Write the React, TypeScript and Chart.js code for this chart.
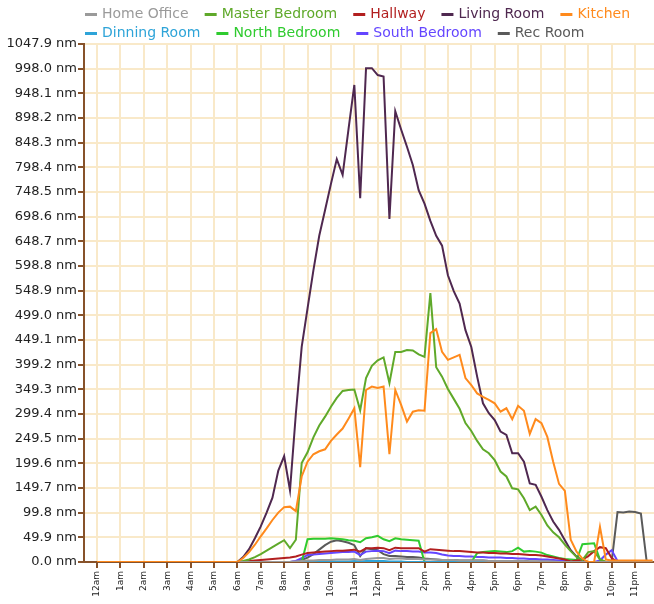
import React, { useEffect, useRef } from 'react';
import { Chart, registerables } from 'chart.js';

Chart.register(...registerables);

// Quarter-hour sample times, in hours from midnight
const SLOTS: number[] = Array.from({ length: 96 }, (_, i) => i / 4);

const HOUR_TICKS = [0, 1, 2, 3, 4, 5, 6, 7, 8, 9, 10, 11, 12, 13, 14, 15, 16, 17, 18, 19, 20, 21, 22, 23];
const HOUR_LABELS = ['12am', '1am', '2am', '3am', '4am', '5am', '6am', '7am', '8am', '9am', '10am', '11am',
  '12pm', '1pm', '2pm', '3pm', '4pm', '5pm', '6pm', '7pm', '8pm', '9pm', '10pm', '11pm'];
const Y_TICKS = [0.0, 49.9, 99.8, 149.7, 199.6, 249.5, 299.4, 349.3, 399.2, 449.1, 499.0, 548.9,
  598.8, 648.7, 698.6, 748.5, 798.4, 848.3, 898.2, 948.1, 998.0, 1047.9];

const SERIES_NAMES = ['Home Office', 'Master Bedroom', 'Hallway', 'Living Room', 'Kitchen',
  'Dinning Room', 'North Bedroom', 'South Bedroom', 'Rec Room'];
const SERIES_COLORS = ['#9a9a9a', '#5fa92a', '#b21f1f', '#4f2850', '#ff8a1c',
  '#2ea4d8', '#2fcb2f', '#6446ff', '#5a5a5a'];

const HOME_OFFICE = [
  0, 0, 0, 0, 0, 0, 0, 0, 0, 0, 0, 0, 0, 0, 0, 0, 0, 0, 0, 0, 0, 0, 0, 0,
  0, 0, 0, 0, 0, 0, 0, 0, 0, 0, 1, 2, 3, 3, 4, 4, 4, 5, 5, 5, 6, 4, 6, 7,
  8, 8, 6, 7, 7, 6, 6, 6, 5, 5, 5, 4, 4, 4, 3, 3, 3, 3, 3, 2, 2, 2, 2, 2,
  2, 2, 1, 1, 1, 1, 1, 0, 0, 0, 0, 0, 0, 0, 0, 0, 0, 0, 0, 0, 0, 0, 0, 0,
];
const MASTER_BEDROOM = [
  0, 0, 0, 0, 0, 0, 0, 0, 0, 0, 0, 0, 0, 0, 0, 0, 0, 0, 0, 0, 0, 0, 0, 0,
  0, 2, 5, 10, 16, 23, 30, 37, 44, 28, 45, 200, 222, 252, 276, 294, 314, 332, 346, 348, 349, 307, 372, 397,
  408, 414, 362, 425, 425, 429, 428, 420, 415, 544, 394, 375, 350, 330, 310, 281, 265, 245, 228, 220, 206, 183, 173, 149,
  147, 129, 105, 112, 95, 74, 60, 50, 35, 22, 10, 4, 20, 22, 5, 0, 0, 0, 0, 0, 0, 0, 0, 0,
];
const HALLWAY = [
  0, 0, 0, 0, 0, 0, 0, 0, 0, 0, 0, 0, 0, 0, 0, 0, 0, 0, 0, 0, 0, 0, 0, 0,
  0, 1, 2, 3, 4, 5, 6, 7, 8, 9, 11, 15, 18, 19, 20, 21, 22, 23, 23, 24, 25, 21, 28, 28,
  29, 28, 24, 29, 28, 28, 28, 28, 21, 26, 25, 24, 23, 22, 22, 21, 20, 19, 19, 18, 18, 17, 17, 16,
  16, 15, 14, 14, 13, 11, 9, 7, 5, 1, 3, 5, 12, 22, 30, 28, 8, 0, 0, 0, 0, 0, 0, 0,
];
const LIVING_ROOM = [
  0, 0, 0, 0, 0, 0, 0, 0, 0, 0, 0, 0, 0, 0, 0, 0, 0, 0, 0, 0, 0, 0, 0, 0,
  0, 10, 26, 48, 72, 100, 130, 185, 214, 145, 300, 435, 513, 590, 660, 712, 765, 815, 783, 875, 965, 736, 999, 999,
  985, 982, 694, 912, 875, 840, 803, 752, 725, 690, 660, 640, 580, 548, 523, 469, 435, 375, 321, 301, 287, 264, 257, 220,
  220, 203, 159, 156, 132, 105, 82, 65, 44, 24, 11, 3, 0, 0, 0, 0, 0, 0, 0, 0, 0, 0, 0, 0,
];
const KITCHEN = [
  0, 0, 0, 0, 0, 0, 0, 0, 0, 0, 0, 0, 0, 0, 0, 0, 0, 0, 0, 0, 0, 0, 0, 0,
  0, 8, 20, 35, 52, 68, 85, 100, 111, 112, 103, 173, 203, 218, 224, 228, 245, 258, 270, 290, 311, 192, 348, 355,
  352, 355, 218, 348, 318, 284, 304, 307, 306, 463, 471, 425, 409, 414, 419, 372, 358, 341, 334, 328, 321, 304, 311, 289,
  316, 306, 259, 289, 281, 253, 203, 158, 144, 45, 21, 7, 0, 0, 71, 5, 3, 3, 3, 3, 3, 3, 3, 3,
];
const DINNING_ROOM = [
  0, 0, 0, 0, 0, 0, 0, 0, 0, 0, 0, 0, 0, 0, 0, 0, 0, 0, 0, 0, 0, 0, 0, 0,
  0, 0, 0, 0, 0, 0, 0, 0, 0, 0, 0, 0, 0, 0, 0, 0, 1, 1, 1, 1, 2, 1, 2, 2,
  2, 2, 1, 1, 1, 0, 0, 0, 0, 0, 0, 0, 0, 0, 0, 0, 0, 0, 0, 0, 0, 0, 0, 0,
  0, 0, 0, 0, 0, 0, 0, 0, 0, 0, 0, 0, 0, 0, 0, 0, 0, 0, 0, 0, 0, 0, 0, 0,
];
const NORTH_BEDROOM = [
  0, 0, 0, 0, 0, 0, 0, 0, 0, 0, 0, 0, 0, 0, 0, 0, 0, 0, 0, 0, 0, 0, 0, 0,
  0, 0, 0, 0, 0, 0, 0, 0, 0, 0, 0, 0, 46, 47, 47, 47, 48, 47, 46, 44, 43, 40, 48, 50,
  53, 46, 42, 48, 46, 45, 44, 43, 0, 0, 0, 0, 0, 0, 0, 0, 0, 18, 20, 21, 22, 21, 20, 22,
  29, 21, 22, 21, 19, 14, 11, 8, 6, 5, 4, 36, 37, 38, 5, 0, 0, 0, 0, 0, 0, 0, 0, 0,
];
const SOUTH_BEDROOM = [
  0, 0, 0, 0, 0, 0, 0, 0, 0, 0, 0, 0, 0, 0, 0, 0, 0, 0, 0, 0, 0, 0, 0, 0,
  0, 0, 0, 0, 0, 0, 0, 0, 0, 0, 2, 8, 14, 15, 16, 17, 18, 19, 20, 20, 21, 14, 21, 22,
  23, 22, 18, 23, 22, 22, 21, 21, 19, 19, 18, 15, 13, 12, 12, 11, 11, 10, 10, 9, 9, 9, 8, 8,
  7, 7, 6, 6, 5, 5, 4, 3, 2, 1, 0, 0, 0, 0, 3, 15, 24, 2, 0, 0, 0, 0, 0, 0,
];
const REC_ROOM = [
  0, 0, 0, 0, 0, 0, 0, 0, 0, 0, 0, 0, 0, 0, 0, 0, 0, 0, 0, 0, 0, 0, 0, 0,
  0, 0, 0, 0, 0, 0, 0, 0, 0, 0, 1, 4, 9, 16, 25, 34, 41, 44, 42, 39, 34, 12, 28, 26,
  24, 16, 12, 12, 11, 10, 10, 9, 7, 6, 5, 4, 4, 4, 3, 3, 3, 3, 3, 2, 2, 2, 2, 2,
  2, 2, 1, 1, 1, 1, 1, 1, 1, 0, 0, 0, 0, 0, 0, 0, 0, 101, 100, 102, 101, 98, 0, 0,
];

const SERIES_VALUES = [HOME_OFFICE, MASTER_BEDROOM, HALLWAY, LIVING_ROOM, KITCHEN,
  DINNING_ROOM, NORTH_BEDROOM, SOUTH_BEDROOM, REC_ROOM];

const LEGEND_ROWS = [[0, 1, 2, 3, 4], [5, 6, 7, 8]];

const FONT = '"DejaVu Sans", sans-serif';
const AXIS_BROWN = '#87522a';
const GRID_COLOR = '#f9e9c9';

const legendPlugin = {
  id: 'roomLegend',
  afterDraw(chart: any) {
    const ctx = chart.ctx as CanvasRenderingContext2D;
    ctx.save();
    ctx.font = `14px ${FONT}`;
    ctx.textBaseline = 'middle';
    ctx.textAlign = 'left';
    LEGEND_ROWS.forEach((row, r) => {
      let x = 85;
      const y = 14.5 + r * 19;
      row.forEach((idx) => {
        const ds = chart.data.datasets[idx];
        ctx.strokeStyle = ds.borderColor;
        ctx.lineWidth = 3;
        ctx.beginPath();
        ctx.moveTo(x, y);
        ctx.lineTo(x + 12, y);
        ctx.stroke();
        ctx.fillStyle = ds.borderColor;
        ctx.fillText(ds.label, x + 17, y);
        x += 17 + ctx.measureText(ds.label).width + 16;
      });
    });
    ctx.restore();
  },
};

export default function App() {
  const canvasRef = useRef<HTMLCanvasElement | null>(null);

  useEffect(() => {
    const canvas = canvasRef.current;
    if (!canvas) return;
    const datasets = SERIES_NAMES.map((name, i) => ({
      label: name,
      data: SERIES_VALUES[i],
      borderColor: SERIES_COLORS[i],
      backgroundColor: SERIES_COLORS[i],
      borderWidth: 2,
      pointRadius: 0,
      tension: 0,
      fill: false,
      order: name === 'Kitchen' ? -1 : 0,
    }));
    const chart = new Chart(canvas, {
      type: 'line',
      data: { labels: SLOTS, datasets },
      plugins: [legendPlugin],
      options: {
        animation: false,
        responsive: false,
        layout: { padding: { top: 44, left: 0, right: 0, bottom: 0 } },
        plugins: {
          legend: { display: false },
          tooltip: { enabled: false },
          title: { display: false },
        },
        scales: {
          x: {
            type: 'linear',
            min: -0.556,
            max: 23.81,
            afterBuildTicks: (scale: any) => {
              scale.ticks = HOUR_TICKS.map((v) => ({ value: v }));
            },
            afterFit: (scale: any) => {
              scale.height = 42;
            },
            ticks: {
              autoSkip: false,
              minRotation: 90,
              maxRotation: 90,
              padding: 3,
              color: '#222',
              font: { family: FONT, size: 9 },
              callback: (value: any) => HOUR_LABELS[HOUR_TICKS.indexOf(Number(value))] ?? '',
            },
            grid: {
              color: GRID_COLOR,
              lineWidth: 2,
              tickColor: AXIS_BROWN,
              tickLength: 6,
              tickWidth: 2,
            },
            border: { color: AXIS_BROWN, width: 2 },
          },
          y: {
            type: 'linear',
            min: 0,
            max: 1047.9,
            afterBuildTicks: (scale: any) => {
              scale.ticks = Y_TICKS.map((v) => ({ value: v }));
            },
            afterFit: (scale: any) => {
              scale.width = 84;
            },
            ticks: {
              padding: 1,
              color: '#222',
              font: { family: FONT, size: 13 },
              callback: (value: any) => `${Number(value).toFixed(1)} nm`,
            },
            grid: {
              color: GRID_COLOR,
              lineWidth: 2,
              tickColor: AXIS_BROWN,
              tickLength: 6,
              tickWidth: 2,
            },
            border: { color: AXIS_BROWN, width: 2 },
          },
        },
      } as any,
    });
    return () => chart.destroy();
  }, []);

  return (
    <div style={{ position: 'fixed', left: 0, top: 0, width: 654, height: 604, background: '#fff' }}>
      <canvas ref={canvasRef} width={654} height={604} style={{ display: 'block' }} />
    </div>
  );
}
